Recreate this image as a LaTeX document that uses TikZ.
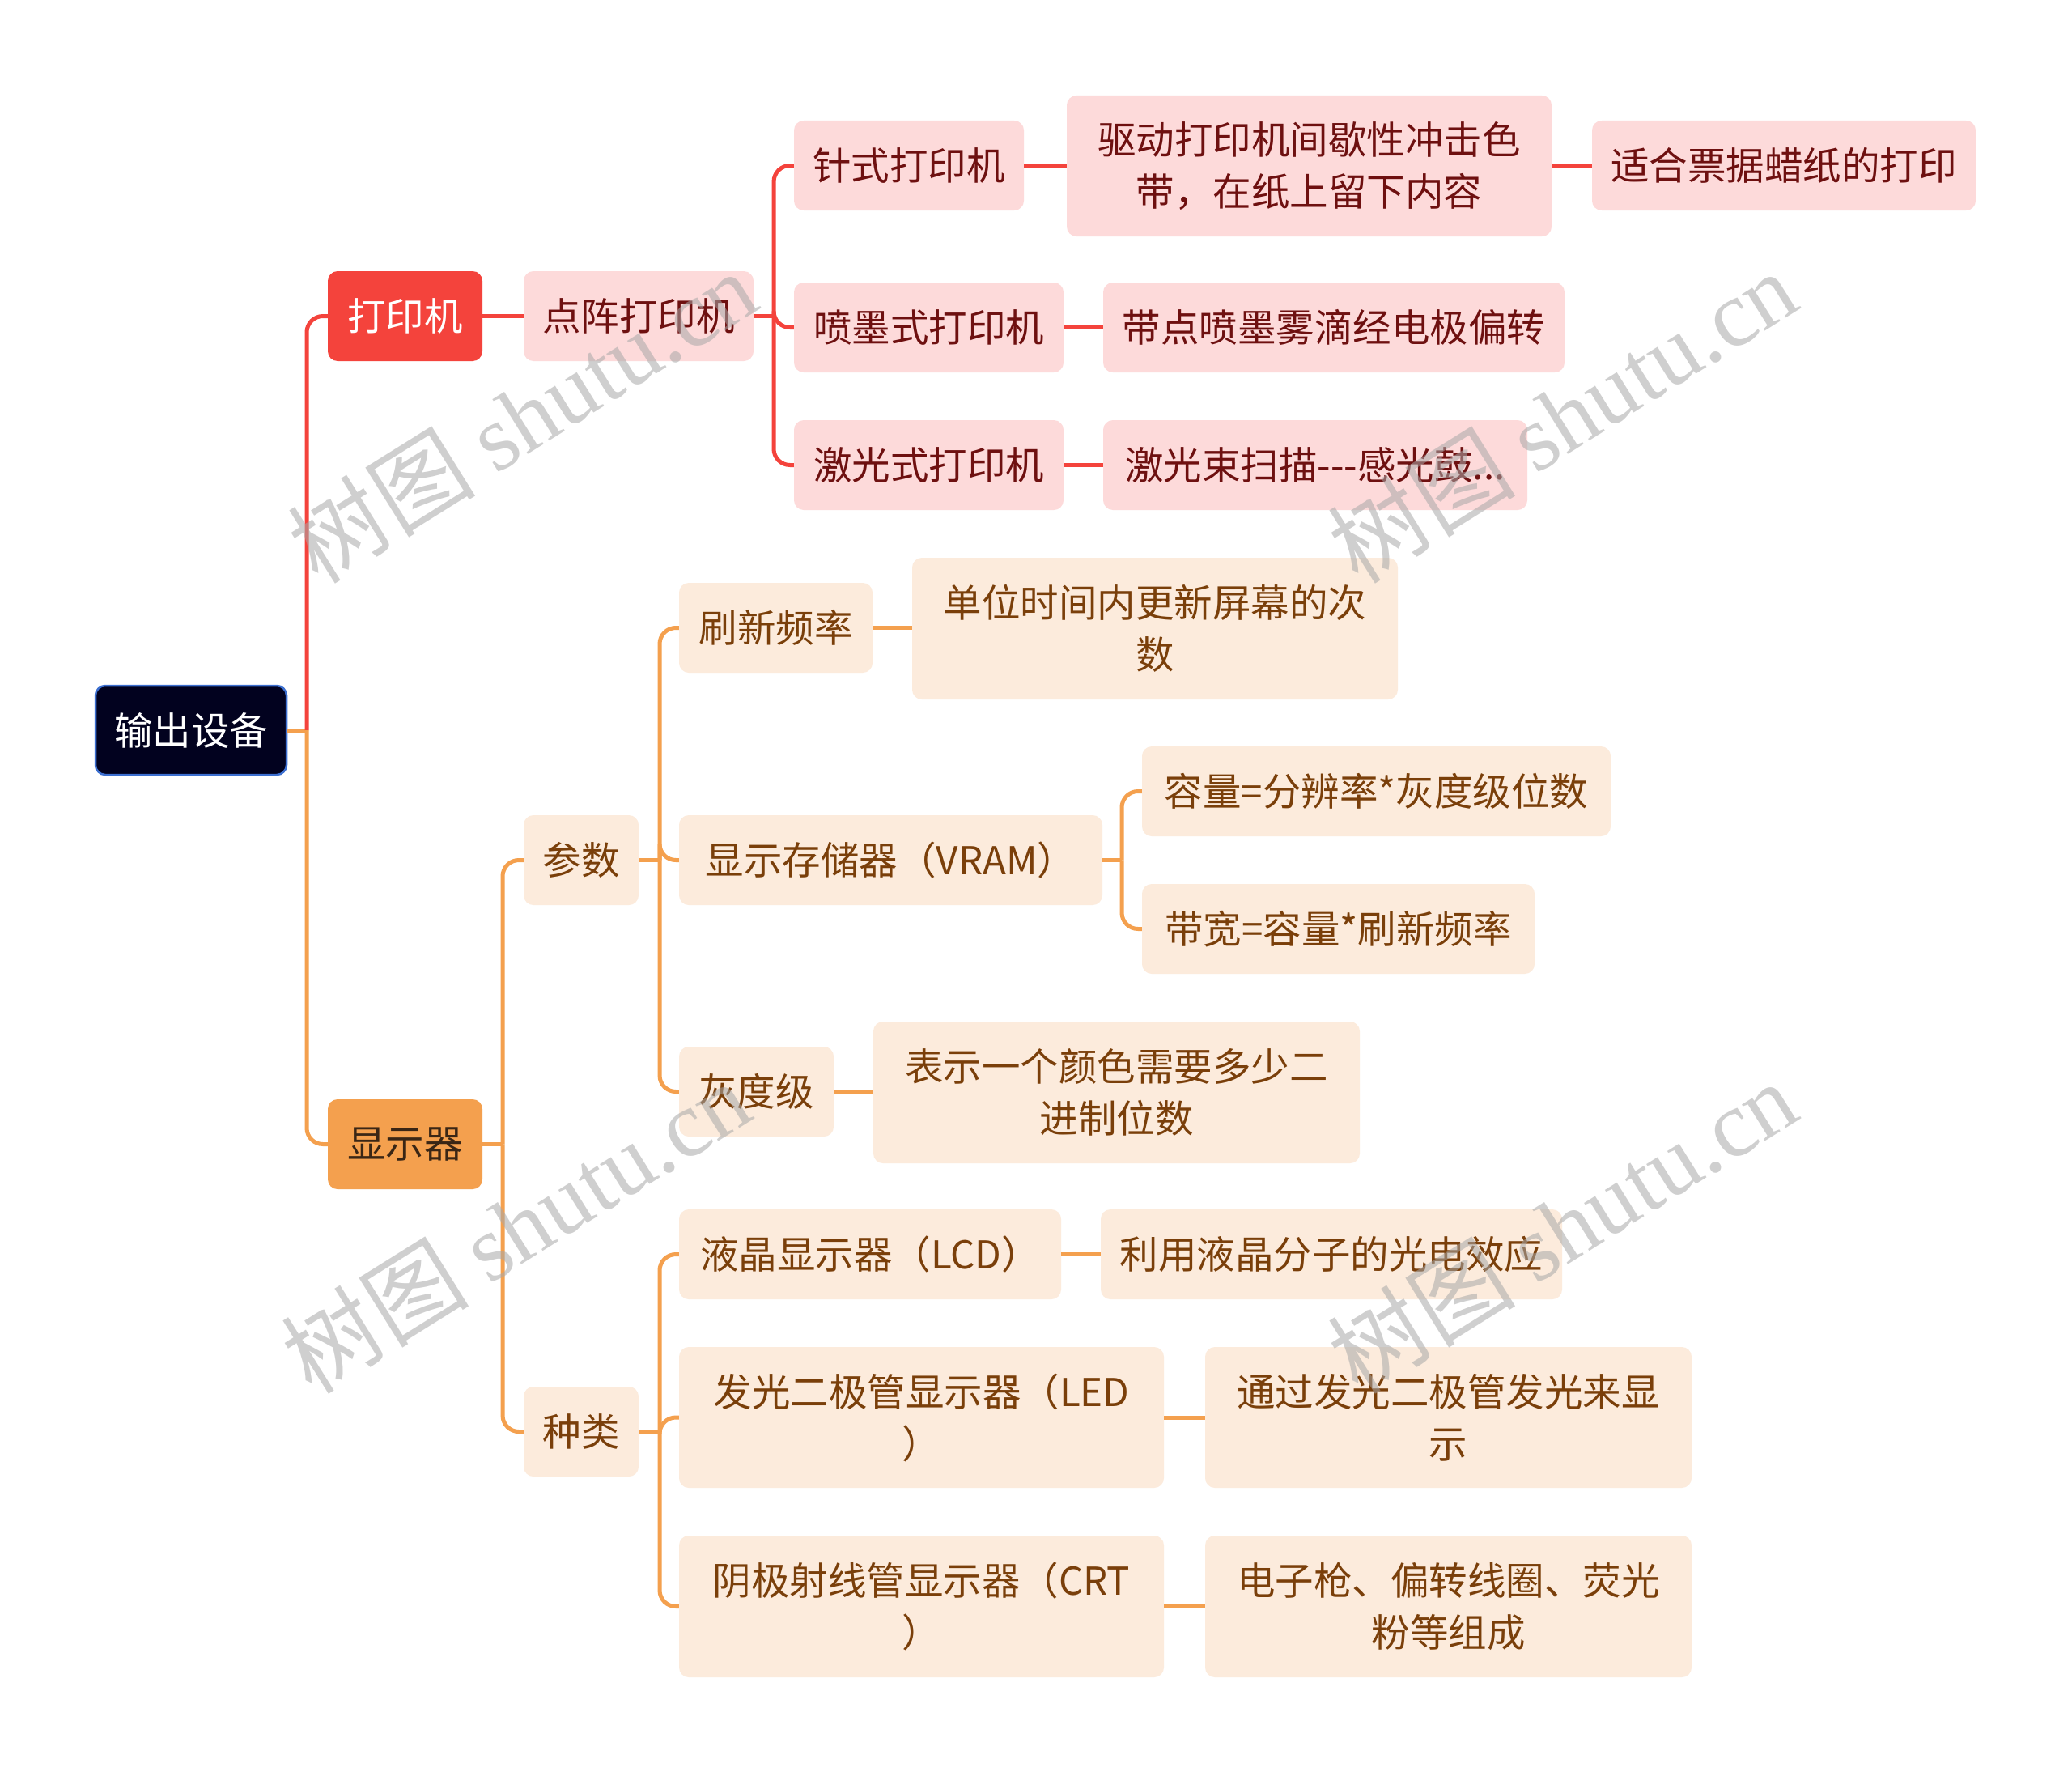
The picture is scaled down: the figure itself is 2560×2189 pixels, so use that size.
\documentclass[tikz,border=0pt]{standalone}
\usepackage{fontspec}
\setmainfont{Noto Sans CJK SC}
\newfontfamily\wmlatin{Liberation Serif}
\newfontfamily\wmcjk{Noto Sans CJK SC}
\definecolor{redc}{HTML}{F4433C}
\definecolor{pinkf}{HTML}{FDDADA}
\definecolor{redt}{HTML}{6E1010}
\definecolor{orc}{HTML}{F4A04E}
\definecolor{beigef}{HTML}{FCEBDC}
\definecolor{brownt}{HTML}{7A3F0A}
\definecolor{darkbrown}{HTML}{3A2615}
\definecolor{navyf}{HTML}{02021F}
\definecolor{rootb}{HTML}{3C6FD0}
\definecolor{wmc}{HTML}{A8A8A8}
\tikzset{
  box/.style={rounded corners=12pt, inner sep=0pt, align=center, font=\fontsize{47.5}{64}\selectfont},
  pinkbox/.style={box, fill=pinkf, text=redt},
  beigebox/.style={box, fill=beigef, text=brownt},
  rootbox/.style={box, fill=navyf, draw=rootb, line width=2.5pt, text=white},
  redmain/.style={box, fill=redc, text=white},
  ormain/.style={box, fill=orc, text=darkbrown},
  redline/.style={draw=redc, line width=5pt, rounded corners=20pt},
  orline/.style={draw=orc, line width=5pt, rounded corners=20pt},
  wmark/.style={rotate=32, text=wmc, text opacity=0.55, inner sep=0pt, font=\fontsize{116}{116}\selectfont}
}
\begin{document}
\begin{tikzpicture}[x=1pt,y=-1pt]
\useasboundingbox[fill=white] (0,0) rectangle (2560,2189);

% nodes
\node[rootbox, minimum width=236pt, minimum height=110pt] (root) at (236,902) {输出设备};
\node[redmain, minimum width=191pt, minimum height=111pt] (dyj) at (500.5,390.5) {打印机};
\node[pinkbox, minimum width=284pt, minimum height=111pt] (dz) at (789,390.5) {点阵打印机};
\node[pinkbox, minimum width=284pt, minimum height=111pt] (zs) at (1123,204.5) {针式打印机};
\node[pinkbox, minimum width=599pt, minimum height=174pt] (qd) at (1617.5,205) {驱动打印机间歇性冲击色\\带，在纸上留下内容};
\node[pinkbox, minimum width=474pt, minimum height=111pt] (sh) at (2204,204.5) {适合票据蜡纸的打印};
\node[pinkbox, minimum width=333pt, minimum height=111pt] (pm) at (1147.5,404.5) {喷墨式打印机};
\node[pinkbox, minimum width=570pt, minimum height=111pt] (dd) at (1648,404.5) {带点喷墨雾滴经电极偏转};
\node[pinkbox, minimum width=333pt, minimum height=111pt] (jg) at (1147.5,574.5) {激光式打印机};
\node[pinkbox, minimum width=524pt, minimum height=111pt] (js) at (1625,574.5) {激光束扫描-{}-{}-感光鼓...};

\node[ormain, minimum width=191pt, minimum height=111pt] (xsq) at (500.5,1413.5) {显示器};
\node[beigebox, minimum width=142pt, minimum height=111pt] (cs) at (718,1062.5) {参数};
\node[beigebox, minimum width=239pt, minimum height=111pt] (sx) at (958.5,775.5) {刷新频率};
\node[beigebox, minimum width=600pt, minimum height=175pt] (dw) at (1427,776.5) {单位时间内更新屏幕的次\\数};
\node[beigebox, minimum width=523pt, minimum height=111pt] (xc) at (1100.5,1062.5) {显示存储器（VRAM）};
\node[beigebox, minimum width=579pt, minimum height=111pt] (rl) at (1700.5,977.5) {容量=分辨率*灰度级位数};
\node[beigebox, minimum width=485pt, minimum height=111pt] (dk) at (1653.5,1147.5) {带宽=容量*刷新频率};
\node[beigebox, minimum width=191pt, minimum height=111pt] (hd) at (934.5,1348.5) {灰度级};
\node[beigebox, minimum width=601pt, minimum height=175pt] (bs) at (1379.5,1349.5) {表示一个颜色需要多少二\\进制位数};
\node[beigebox, minimum width=142pt, minimum height=111pt] (zl) at (718,1768.5) {种类};
\node[beigebox, minimum width=472pt, minimum height=111pt] (lcd) at (1075,1549.5) {液晶显示器（LCD）};
\node[beigebox, minimum width=570pt, minimum height=111pt] (ly) at (1645,1549.5) {利用液晶分子的光电效应};
\node[beigebox, minimum width=599pt, minimum height=174pt] (led) at (1138.5,1751) {发光二极管显示器（LED\\）};
\node[beigebox, minimum width=601pt, minimum height=174pt] (tg) at (1789.5,1751) {通过发光二极管发光来显\\示};
\node[beigebox, minimum width=599pt, minimum height=175pt] (crt) at (1138.5,1984.5) {阴极射线管显示器（CRT\\）};
\node[beigebox, minimum width=601pt, minimum height=175pt] (dzq) at (1789.5,1984.5) {电子枪、偏转线圈、荧光\\粉等组成};

% bus coordinates
\coordinate (b0) at (379,902);
\coordinate (b1) at (956,390.5);
\coordinate (b2) at (621,1413.5);
\coordinate (b3) at (815,1062.5);
\coordinate (b4) at (1386,1062.5);
\coordinate (b5) at (815,1768.5);

% connectors: root
\draw[orline] (root.east) -- (b0);
\draw[redline] (b0) |- (dyj.west);
\draw[orline] (b0) |- (xsq.west);

% printer branch
\draw[redline] (dyj.east) -- (dz.west);
\draw[redline] (dz.east) -- (b1);
\draw[redline] (b1) |- (zs.west);
\draw[redline] (b1) |- (pm.west);
\draw[redline] (b1) |- (jg.west);
\draw[redline] (zs.east) -- (qd.west |- zs.east);
\draw[redline] (qd.east |- sh.west) -- (sh.west);
\draw[redline] (pm.east) -- (dd.west);
\draw[redline] (jg.east) -- (js.west);

% display branch
\draw[orline] (xsq.east) -- (b2);
\draw[orline] (b2) |- (cs.west);
\draw[orline] (b2) |- (zl.west);
\draw[orline] (cs.east) -- (b3);
\draw[orline] (b3) |- (sx.west);
\draw[orline] (b3) |- (xc.west);
\draw[orline] (b3) |- (hd.west);
\draw[orline] (sx.east) -- (dw.west |- sx.east);
\draw[orline] (xc.east) -- (b4);
\draw[orline] (b4) |- (rl.west);
\draw[orline] (b4) |- (dk.west);
\draw[orline] (hd.east) -- (bs.west |- hd.east);
\draw[orline] (zl.east) -- (b5);
\draw[orline] (b5) |- (lcd.west);
\draw[orline] (b5) |- (led.west);
\draw[orline] (b5) |- (crt.west);
\draw[orline] (lcd.east) -- (ly.west);
\draw[orline] (led.east) -- (tg.west);
\draw[orline] (crt.east) -- (dzq.west);

% watermarks
\node[wmark] (wm1) at (645,514) {{\wmcjk 树图} {\wmlatin shutu.cn}};
\node[wmark] (wm2) at (1930,514) {{\wmcjk 树图} {\wmlatin shutu.cn}};
\node[wmark] (wm3) at (637,1515) {{\wmcjk 树图} {\wmlatin shutu.cn}};
\node[wmark] (wm4) at (1930,1515) {{\wmcjk 树图} {\wmlatin shutu.cn}};
\end{tikzpicture}
\end{document}
